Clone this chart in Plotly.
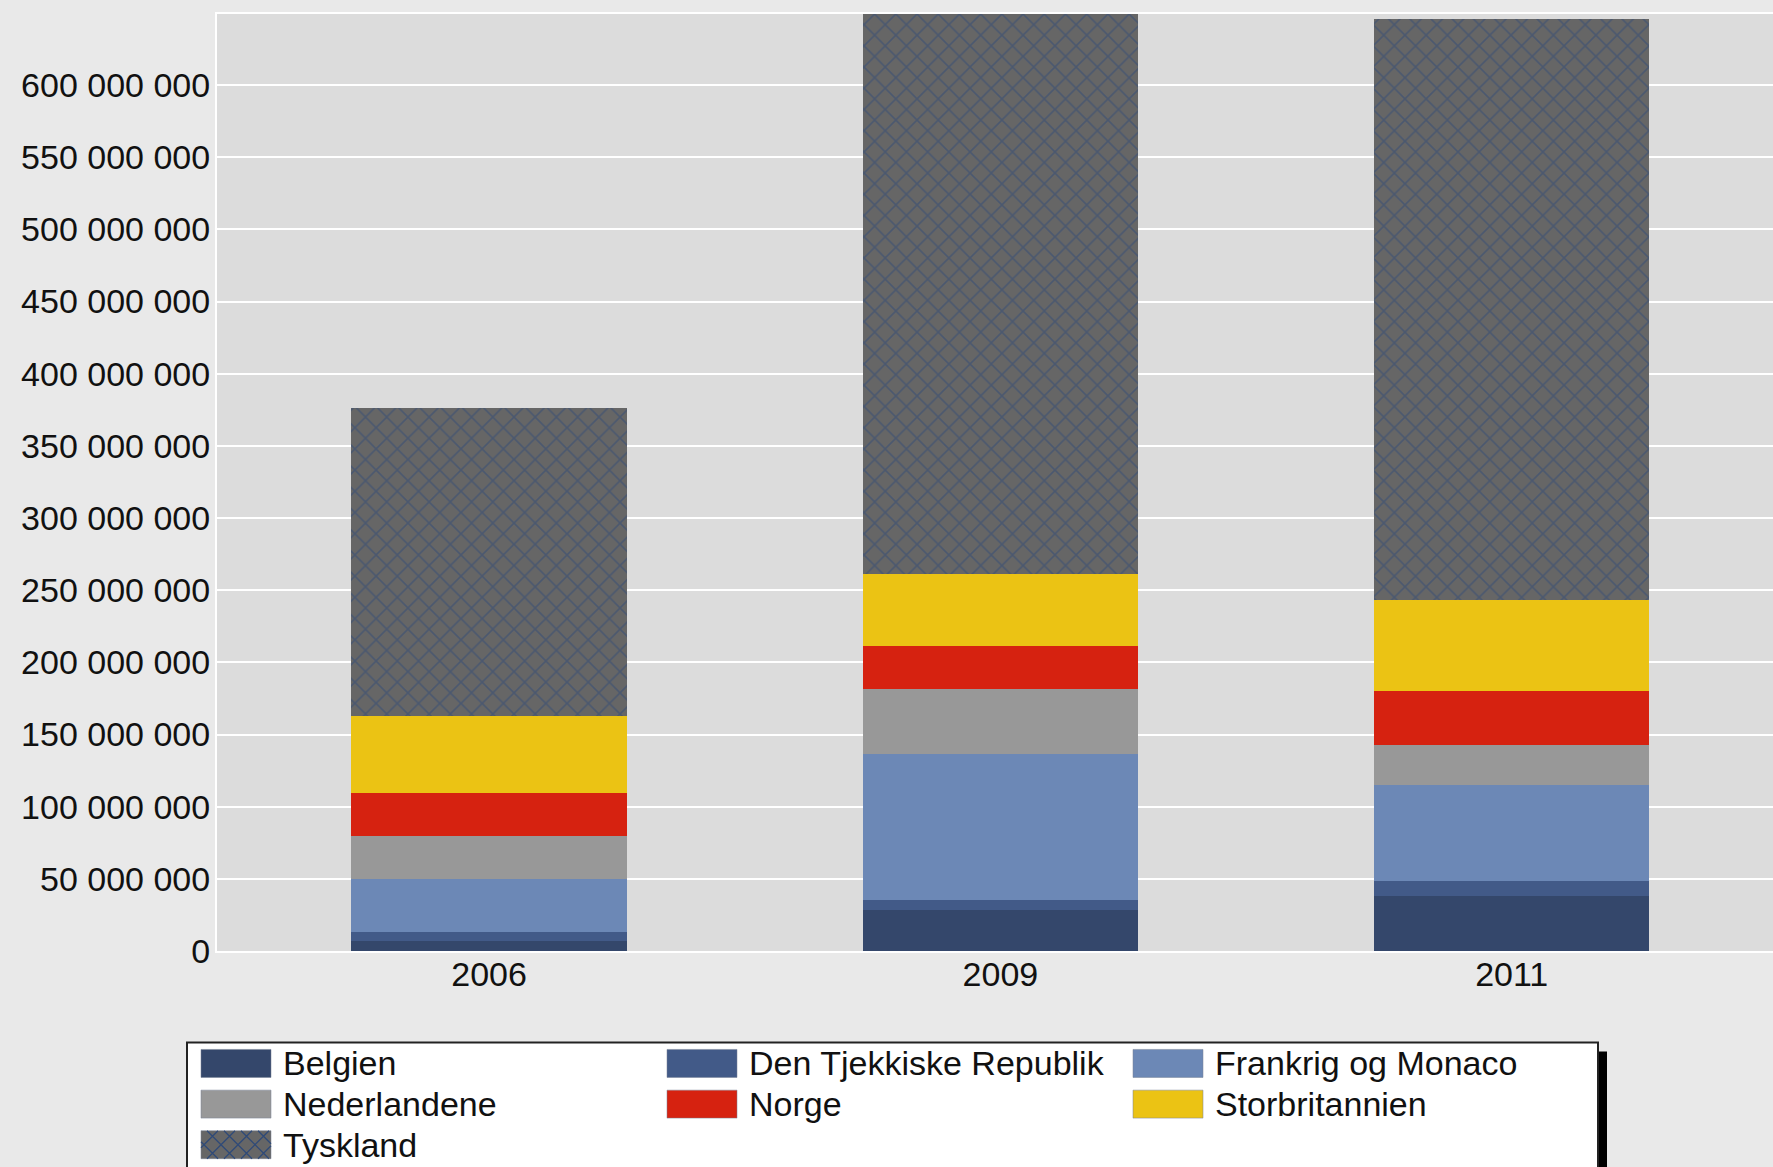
import plotly.graph_objects as go

# Eksport fordelt på lande (kr.)
years = ["2006", "2009", "2011"]
countries = ["Belgien", "Den Tjekkiske Republik", "Frankrig og Monaco",
             "Nederlandene", "Norge", "Storbritannien", "Tyskland"]

belgien = [7.0e6, 28.7e6, 38.4e6]
tjekkiet = [6.5e6, 6.5e6, 10.4e6]
frankrig = [36.5e6, 101.6e6, 66.5e6]
nederlandene = [30.0e6, 44.8e6, 27.7e6]
norge = [29.8e6, 29.9e6, 36.9e6]
storbritannien = [53.1e6, 49.9e6, 63.0e6]
tyskland = [213.1e6, 387.8e6, 402.6e6]

series = [belgien, tjekkiet, frankrig, nederlandene, norge, storbritannien, tyskland]
colors = ["#34476b", "#425a88", "#6c88b6", "#989898", "#d62210", "#ebc314", "#666666"]
hatch_color = "#2f4a78"

FONT = "Liberation Sans, Arial, sans-serif"
W_FIG, H_FIG = 1773, 1167
L, T, R, B = 217, 14, 0, 215.5
PW, PH = W_FIG - L - R, H_FIG - T - B


def px(x):
    return (x - L) / PW


def py(y):
    return (T + PH - y) / PH


def hatch_path(x0, y0, x1, y1, s):
    """Crosshatch lines clipped to a pixel rectangle, as a paper-coord path."""
    parts = []
    c = x0 - y1
    while c <= x1 - y0:
        xa, xb = max(x0, y0 + c), min(x1, y1 + c)
        if xb > xa:
            parts.append(f"M{px(xa)},{py(xa - c)} L{px(xb)},{py(xb - c)}")
        c += s
    c = x0 + y0
    while c <= x1 + y1:
        xa, xb = max(x0, c - y1), min(x1, c - y0)
        if xb > xa:
            parts.append(f"M{px(xa)},{py(c - xa)} L{px(xb)},{py(c - xb)}")
        c += s
    return " ".join(parts)


fig = go.Figure()

for name, vals, col in zip(countries, series, colors):
    marker = dict(color=col, line=dict(width=0))
    if name == "Tyskland":
        marker["pattern"] = dict(shape="x", size=15, solidity=0.2,
                                 fgcolor=hatch_color, bgcolor=col)
    fig.add_trace(go.Bar(x=years, y=vals, name=name, marker=marker))

# Manual legend (large swatches like the original)
shapes = [
    dict(type="rect", xref="paper", yref="paper",
         x0=px(1598), x1=px(1607), y0=py(1052), y1=py(1200),
         fillcolor="black", line=dict(width=0)),
    dict(type="rect", xref="paper", yref="paper",
         x0=px(187), x1=px(1598), y0=py(1043), y1=py(1200),
         fillcolor="white", line=dict(color="#222222", width=2)),
]
annotations = []
col_x = [201, 667, 1133]
row_y = [1064, 1104.7, 1145.3]
sw_w, sw_h = 70, 28
for i, (name, col) in enumerate(zip(countries, colors)):
    sx = col_x[i % 3]
    cy = row_y[i // 3]
    shapes.append(dict(type="rect", xref="paper", yref="paper",
                       x0=px(sx), x1=px(sx + sw_w),
                       y0=py(cy + sw_h / 2), y1=py(cy - sw_h / 2),
                       fillcolor=col, line=dict(color="rgba(120,130,150,0.5)", width=1)))
    if name == "Tyskland":
        shapes.append(dict(type="path", xref="paper", yref="paper",
                           path=hatch_path(sx, cy - sw_h / 2, sx + sw_w, cy + sw_h / 2, 17),
                           line=dict(color=hatch_color, width=1.3)))
    annotations.append(dict(xref="paper", yref="paper", x=px(sx + 80), y=py(cy),
                            xanchor="left", yanchor="middle", showarrow=False,
                            text=name, font=dict(family=FONT, size=34, color="#111111")))

fig.update_layout(
    width=W_FIG, height=H_FIG,
    margin=dict(l=L, r=R, t=T, b=B, autoexpand=False),
    paper_bgcolor="#e9e9e9",
    plot_bgcolor="#dcdcdc",
    barmode="stack",
    bargap=0.462,
    showlegend=False,
    separators=". ",
    font=dict(family=FONT, size=34, color="#111111"),
    xaxis=dict(type="category", range=[-0.532, 2.511], showgrid=False,
               showline=True, linecolor="white", linewidth=2, mirror=True,
               ticks="", ticklabelstandoff=-8,
               tickfont=dict(family=FONT, size=34, color="#111111")),
    yaxis=dict(range=[0, 649.2e6], dtick=50e6, tickformat=",d",
               showgrid=True, gridcolor="white", gridwidth=2, zeroline=False,
               showline=True, linecolor="white", linewidth=2, mirror=True,
               ticks="", ticklabelstandoff=-2,
               tickfont=dict(family=FONT, size=34, color="#111111")),
    shapes=shapes,
    annotations=annotations,
)

fig.write_html("out.html", config={"displayModeBar": False},
               post_script="document.body.style.margin='0';document.body.style.overflow='hidden';")
